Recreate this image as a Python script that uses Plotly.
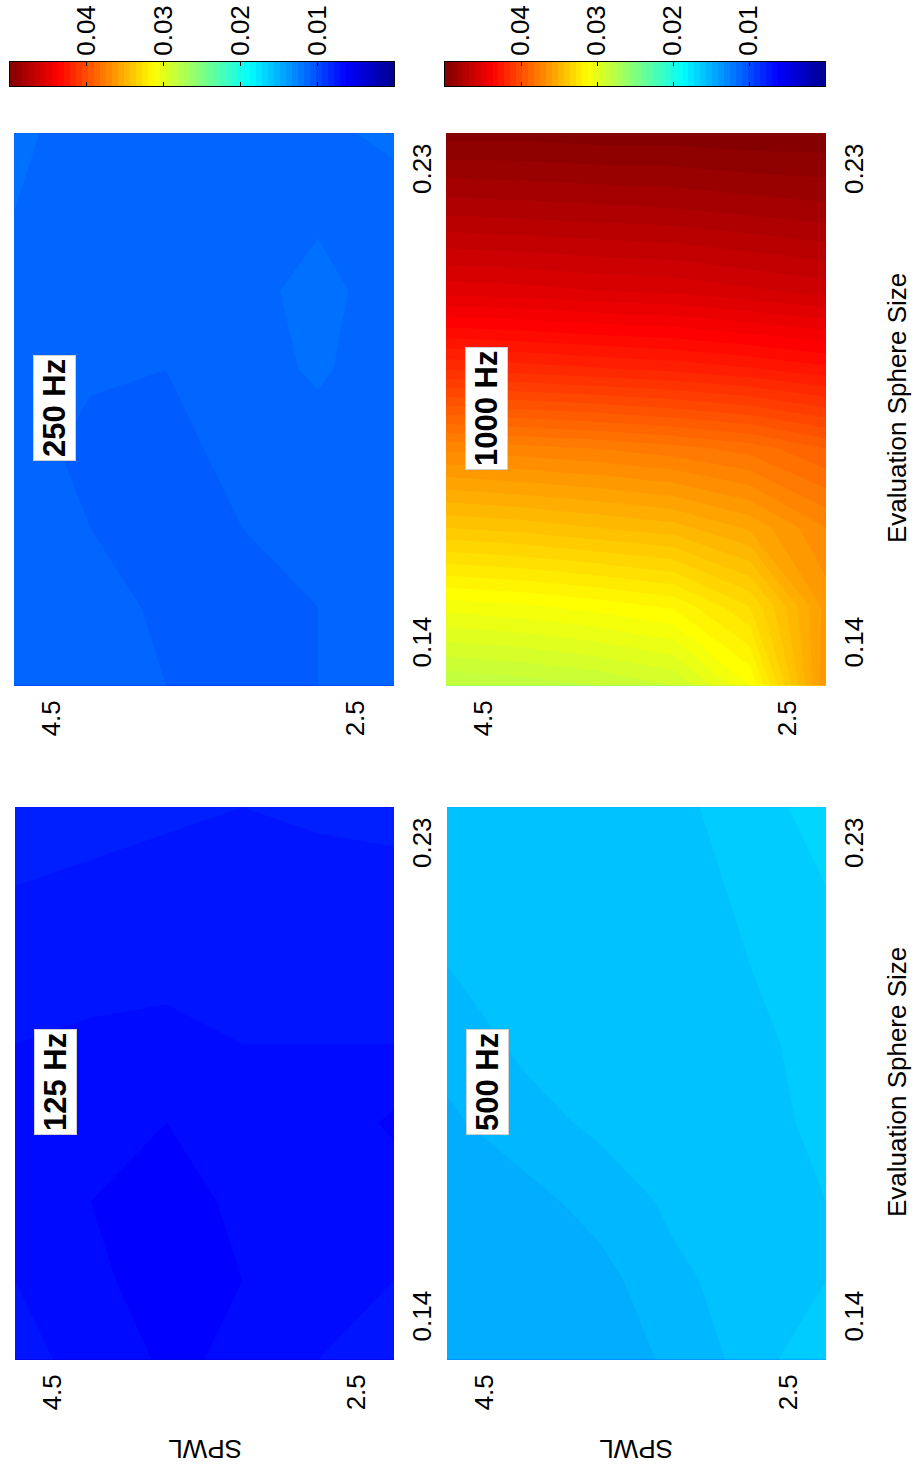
import plotly.graph_objects as go

# Grid of the parameter study
SPWL = [2.25, 2.75, 3.25, 3.75, 4.25, 4.75]
SPHERE = [0.1325, 0.1475, 0.1625, 0.1775, 0.1925, 0.2075, 0.2225, 0.2375]

# Error values, one row per evaluation sphere size, columns follow SPWL
Z_125 = [
    [0.0071, 0.0070, 0.0066, 0.0064, 0.0069, 0.0071],
    [0.0070, 0.0069, 0.0065, 0.0063, 0.0066, 0.0070],
    [0.0068, 0.0069, 0.0066, 0.0063, 0.0065, 0.0070],
    [0.0064, 0.0069, 0.0068, 0.0065, 0.0067, 0.0070],
    [0.0070, 0.0070, 0.0070, 0.0069, 0.0069, 0.0070],
    [0.0072, 0.0071, 0.0071, 0.0071, 0.0072, 0.0073],
    [0.0074, 0.0073, 0.0073, 0.0073, 0.0074, 0.0075],
    [0.0076, 0.0076, 0.0075, 0.0076, 0.0077, 0.0077],
]
Z_250 = [
    [0.0114, 0.0110, 0.0108, 0.0110, 0.0113, 0.0115],
    [0.0112, 0.0110, 0.0109, 0.0109, 0.0112, 0.0115],
    [0.0111, 0.0111, 0.0110, 0.0108, 0.0110, 0.0114],
    [0.0110, 0.0112, 0.0111, 0.0109, 0.0108, 0.0113],
    [0.0111, 0.0116, 0.0112, 0.0110, 0.0111, 0.0113],
    [0.0112, 0.0117, 0.0113, 0.0111, 0.0112, 0.0114],
    [0.0113, 0.0114, 0.0112, 0.0111, 0.0113, 0.0115],
    [0.0116, 0.0114, 0.0112, 0.0111, 0.0113, 0.0116],
]
Z_500 = [
    [0.0165, 0.0157, 0.0151, 0.0147, 0.0147, 0.0147],
    [0.0160, 0.0157, 0.0154, 0.0148, 0.0147, 0.0147],
    [0.0160, 0.0157, 0.0156, 0.0152, 0.0148, 0.0147],
    [0.0162, 0.0157, 0.0156, 0.0156, 0.0153, 0.0149],
    [0.0163, 0.0158, 0.0156, 0.0157, 0.0156, 0.0152],
    [0.0164, 0.0160, 0.0156, 0.0158, 0.0156, 0.0155],
    [0.0165, 0.0162, 0.0156, 0.0157, 0.0156, 0.0156],
    [0.0166, 0.0164, 0.0158, 0.0157, 0.0157, 0.0158],
]
Z_1000 = [
    [0.0365, 0.0310, 0.0290, 0.0285, 0.0282, 0.0280],
    [0.0362, 0.0330, 0.0316, 0.0312, 0.0309, 0.0307],
    [0.0370, 0.0356, 0.0348, 0.0345, 0.0342, 0.0340],
    [0.0390, 0.0382, 0.0378, 0.0375, 0.0373, 0.0371],
    [0.0428, 0.0424, 0.0421, 0.0419, 0.0417, 0.0415],
    [0.0462, 0.0459, 0.0456, 0.0455, 0.0453, 0.0452],
    [0.0483, 0.0481, 0.0479, 0.0478, 0.0477, 0.0476],
    [0.0499, 0.0499, 0.0498, 0.0498, 0.0497, 0.0497],
]

PANEL_LABELS = ["125 Hz", "250 Hz", "500 Hz", "1000 Hz"]
SPWL_TICKS = [2.5, 4.5]
SPHERE_TICKS = [0.14, 0.23]
CBAR_TICKS = [0.01, 0.02, 0.03, 0.04]
Z_MIN, Z_MAX = 0.0, 0.05
N_COLORS = 64

JET = [
    [0.0, "rgb(0,0,143)"],
    [0.125, "rgb(0,0,255)"],
    [0.375, "rgb(0,255,255)"],
    [0.625, "rgb(255,255,0)"],
    [0.875, "rgb(255,0,0)"],
    [1.0, "rgb(128,0,0)"],
]

FONT = "Arial, Liberation Sans, sans-serif"
W, H = 914, 1480


def px_x(a, b):
    return [a / W, b / W]


def px_y(top, bottom):
    return [1 - bottom / H, 1 - top / H]


# panel placement: (data, label, x-domain, y-domain)
panels = [
    (Z_125, PANEL_LABELS[0], px_x(15, 394), px_y(804, 1360)),
    (Z_250, PANEL_LABELS[1], px_x(14, 394), px_y(130, 686)),
    (Z_500, PANEL_LABELS[2], px_x(447, 826), px_y(804, 1360)),
    (Z_1000, PANEL_LABELS[3], px_x(446, 826), px_y(130, 686)),
]

fig = go.Figure()
layout = dict(
    width=W, height=H,
    margin=dict(l=0, r=0, t=0, b=0),
    paper_bgcolor="white", plot_bgcolor="white",
    showlegend=False,
    font=dict(family=FONT, size=26, color="black"),
)
annotations = []

for i, (z, label, xd, yd) in enumerate(panels, start=1):
    xa, ya = f"x{i}", f"y{i}"
    fig.add_trace(go.Contour(
        x=SPWL, y=SPHERE, z=z,
        colorscale=JET, zmin=Z_MIN, zmax=Z_MAX, zauto=False,
        contours=dict(start=Z_MIN, end=Z_MAX, size=0.0005,
                      coloring="fill", showlines=False),
        line=dict(width=0, smoothing=0), showscale=False,
        xaxis=xa, yaxis=ya, hoverinfo="skip",
    ))
    layout[f"xaxis{i}"] = dict(
        domain=xd, anchor=ya, range=[4.75, 2.25],
        tickvals=SPWL_TICKS, ticktext=[str(v) for v in SPWL_TICKS],
        tickangle=-90, ticks="", showgrid=False, zeroline=False,
        showline=False, tickfont=dict(size=26), ticklabelstandoff=8,
    )
    layout[f"yaxis{i}"] = dict(
        domain=yd, anchor=xa, side="right", range=[0.1324, 0.2381],
        tickvals=SPHERE_TICKS, ticktext=[f"{v:.2f}" for v in SPHERE_TICKS],
        tickangle=-90, ticks="", showgrid=False, zeroline=False,
        showline=False, tickfont=dict(size=26), ticklabelstandoff=10,
    )
    annotations.append(dict(
        text=f"<b>{label}</b>", textangle=-90,
        xref="paper", yref="paper",
        x=xd[0] + 40 / W, y=(yd[0] + yd[1]) / 2,
        xanchor="center", yanchor="middle", showarrow=False,
        font=dict(size=31, family=FONT, color="black"),
        bgcolor="white", bordercolor="#d0d0d0", borderwidth=1, borderpad=3,
    ))

# colour bars, high values on the left
cbar_step = (Z_MAX - Z_MIN) / N_COLORS
cbar_vals = [Z_MIN + (k + 0.5) * cbar_step for k in range(N_COLORS)]
for j, xd in enumerate([px_x(10, 394), px_x(445, 825)], start=5):
    xa, ya = f"x{j}", f"y{j}"
    fig.add_trace(go.Heatmap(
        x=cbar_vals, y=[0], z=[cbar_vals],
        colorscale=JET, zmin=Z_MIN, zmax=Z_MAX, showscale=False,
        xaxis=xa, yaxis=ya, hoverinfo="skip",
    ))
    layout[f"xaxis{j}"] = dict(
        domain=xd, anchor=ya, range=[Z_MAX, Z_MIN], side="top",
        tickvals=CBAR_TICKS, ticktext=[f"{v:.2f}" for v in CBAR_TICKS],
        tickangle=-90, ticks="inside", ticklen=4, tickcolor="black",
        showline=True, linecolor="black", linewidth=1, mirror="ticks",
        showgrid=False, zeroline=False, tickfont=dict(size=26),
        ticklabelstandoff=0,
    )
    layout[f"yaxis{j}"] = dict(
        domain=px_y(62, 86), anchor=xa, range=[-0.5, 0.5],
        showticklabels=False, ticks="", showline=True, linecolor="black",
        linewidth=1, mirror=True, showgrid=False, zeroline=False,
    )

# axis titles
for xd in [panels[0][2], panels[2][2]]:
    annotations.append(dict(
        text="SPWL", textangle=180, xref="paper", yref="paper",
        x=(xd[0] + xd[1]) / 2, y=1 - 1449 / H,
        xanchor="center", yanchor="middle", showarrow=False,
        font=dict(size=26, family=FONT, color="black"),
    ))
for yd in [panels[3][3], panels[2][3]]:
    annotations.append(dict(
        text="Evaluation Sphere Size", textangle=-90,
        xref="paper", yref="paper",
        x=897 / W, y=(yd[0] + yd[1]) / 2,
        xanchor="center", yanchor="middle", showarrow=False,
        font=dict(size=26, family=FONT, color="black"),
    ))

layout["annotations"] = annotations
fig.update_layout(**layout)
fig.write_html("out.html")
